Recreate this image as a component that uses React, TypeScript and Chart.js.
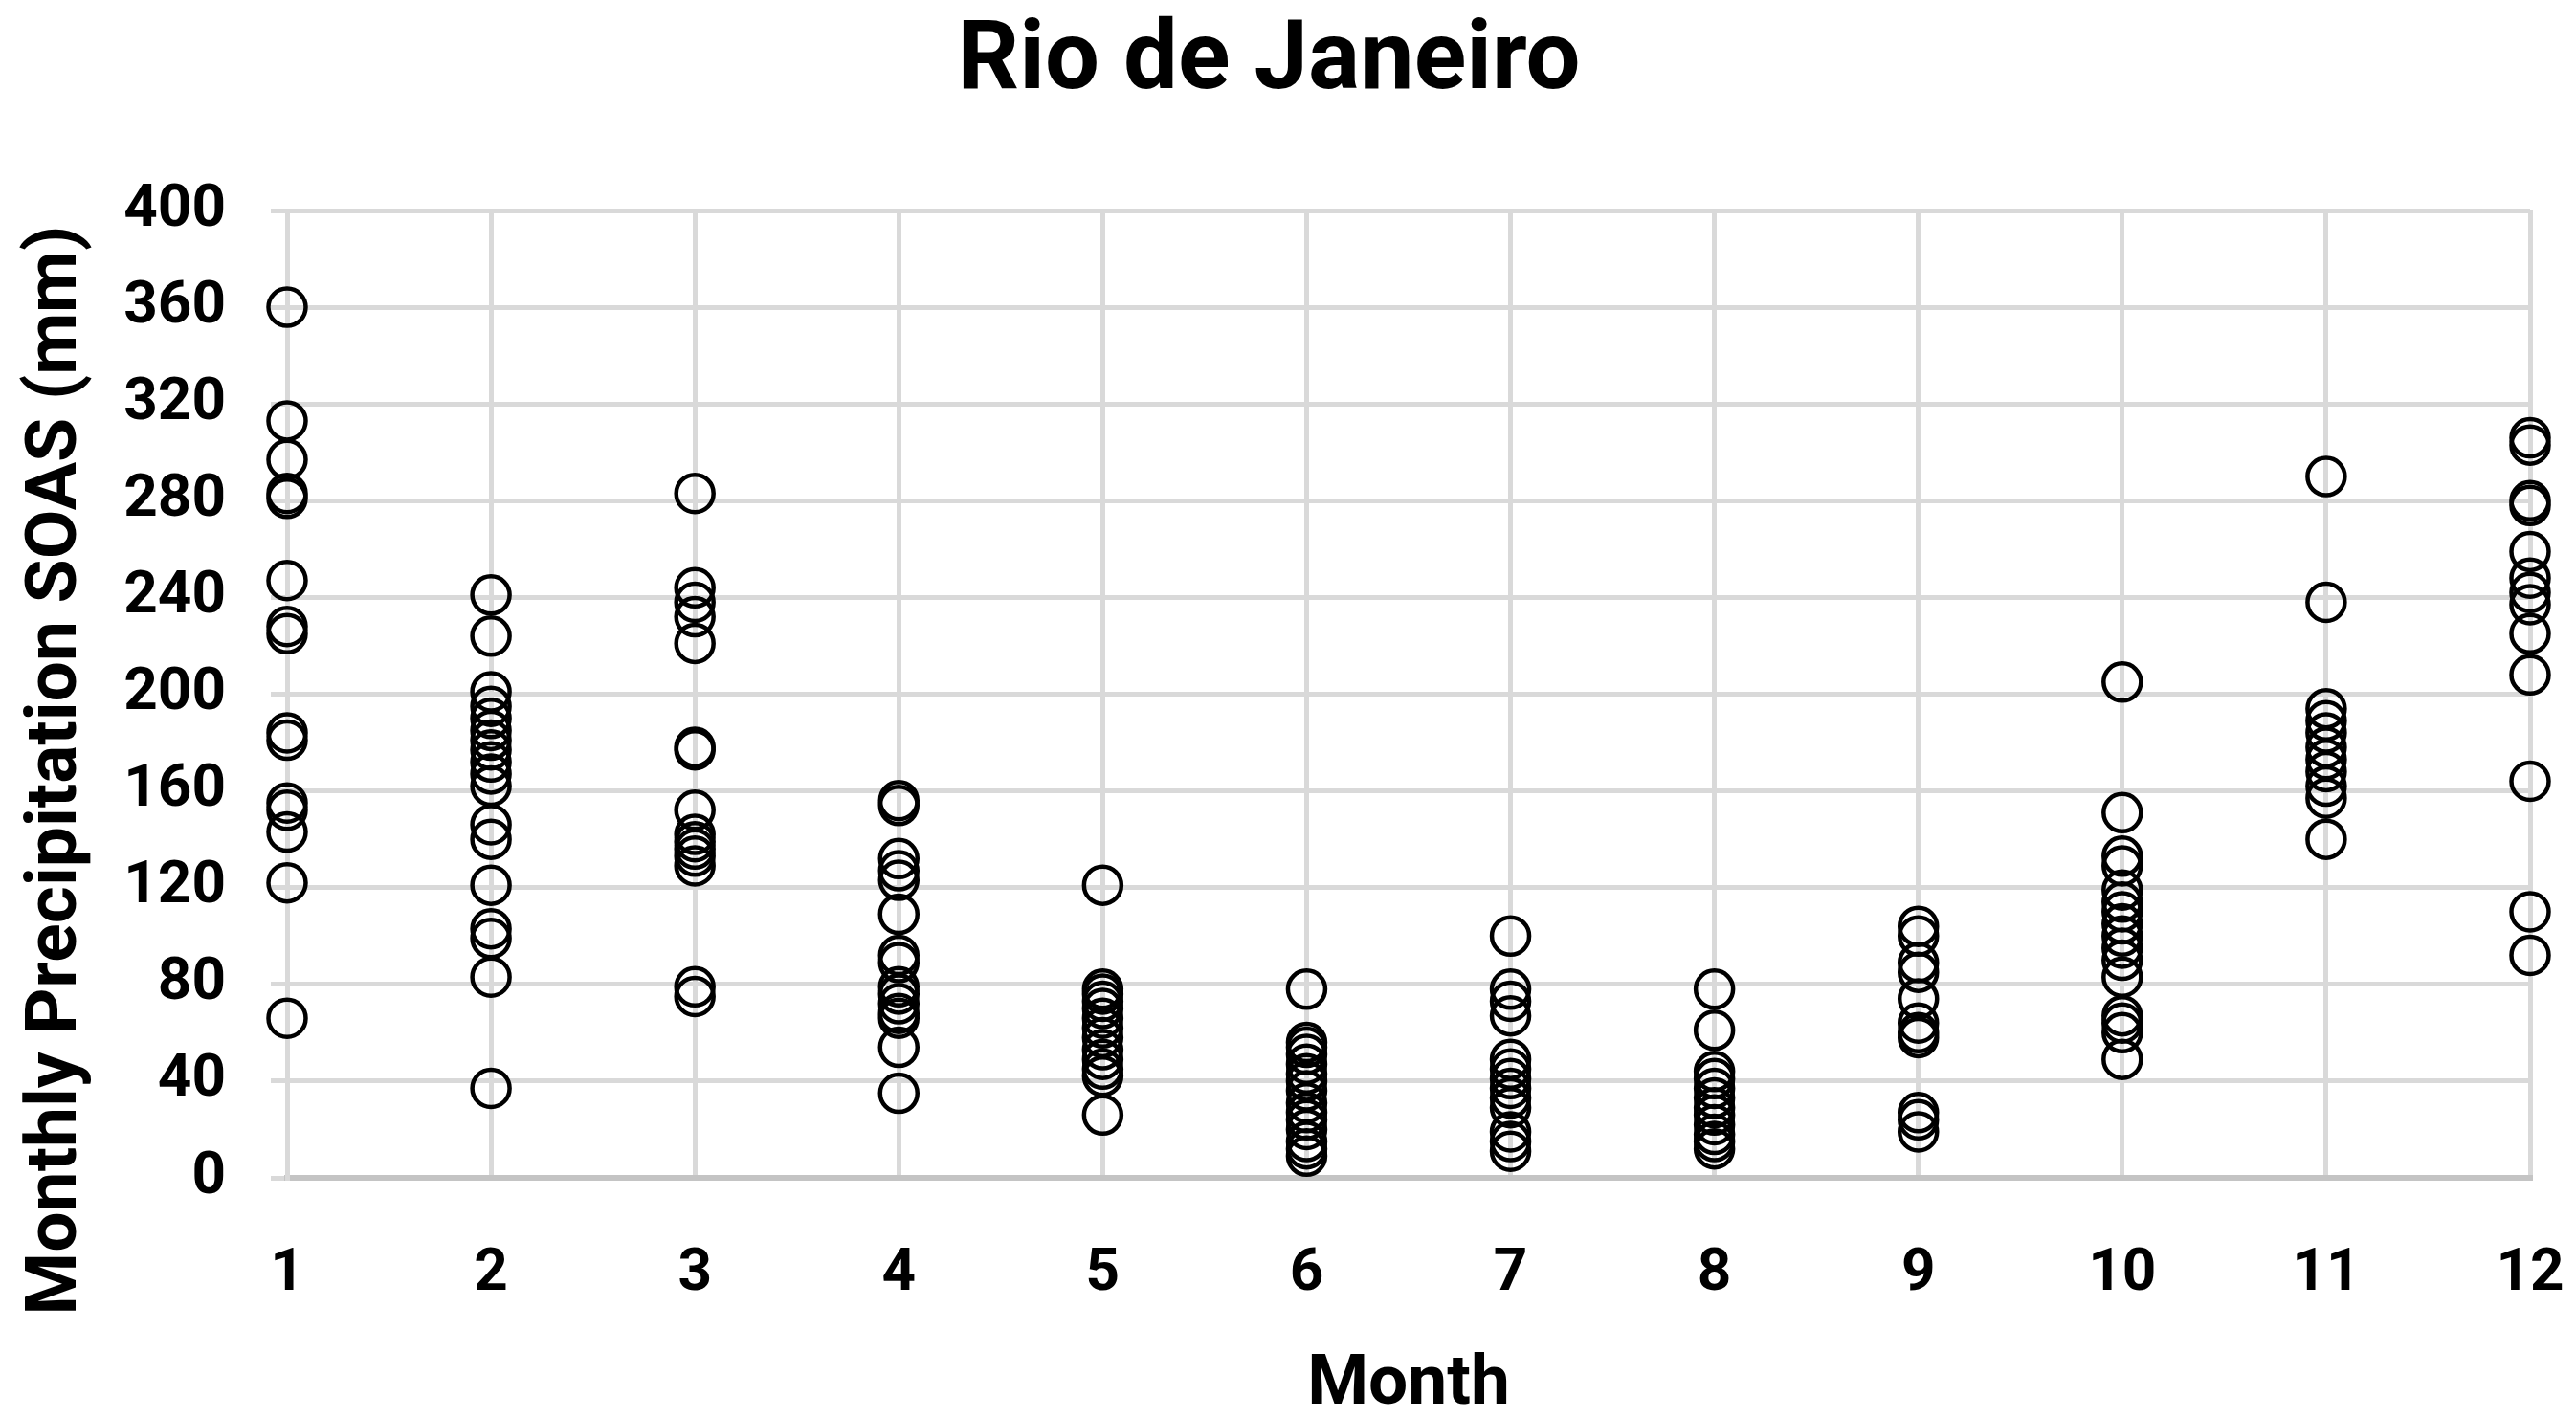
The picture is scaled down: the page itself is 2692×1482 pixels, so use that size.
import { useEffect, useRef } from "react";
import Chart from "chart.js/auto";

// month numbers on the x axis
const months = [1, 2, 3, 4, 5, 6, 7, 8, 9, 10, 11, 12];

// monthly precipitation SOAS (mm), one list per month
const jan = [360, 313, 297, 283, 281, 247, 228, 225, 184, 181, 155, 152, 143, 122, 66];
const feb = [241, 224, 201, 195, 190, 185, 181, 177, 172, 167, 162, 146, 140, 121, 103, 99, 83, 37];
const mar = [283, 244, 238, 232, 221, 178, 177, 152, 142, 139, 136, 133, 129, 79, 75];
const apr = [156, 154, 132, 127, 123, 109, 92, 89, 79, 76, 72, 68, 66, 54, 35];
const may = [121, 78, 76, 73, 70, 66, 62, 58, 53, 49, 45, 42, 26];
const jun = [78, 56, 54, 51, 47, 43, 40, 36, 31, 27, 24, 20, 15, 12, 9];
const jul = [100, 78, 73, 67, 49, 45, 41, 37, 33, 29, 19, 15, 11];
const aug = [78, 61, 44, 41, 37, 33, 29, 26, 22, 18, 15, 12];
const sep = [104, 100, 89, 85, 74, 64, 60, 58, 27, 24, 19];
const oct = [205, 151, 133, 129, 119, 114, 110, 105, 100, 95, 90, 83, 67, 64, 60, 49];
const nov = [290, 238, 194, 189, 184, 178, 173, 168, 162, 157, 140];
const dec = [306, 303, 280, 278, 259, 248, 242, 237, 225, 208, 164, 110, 92];

const series = [jan, feb, mar, apr, may, jun, jul, aug, sep, oct, nov, dec];

// labelled y ticks (minor tick marks sit halfway between them)
const yLabels = [0, 40, 80, 120, 160, 200, 240, 280, 320, 360, 400];

const FONT = "Roboto";
const GRID = "#d9d9d9";

const yTitlePlugin = {
  id: "yTitle",
  afterDraw(chart: any) {
    const { ctx } = chart;
    ctx.save();
    ctx.translate(71, 797);
    ctx.rotate(-Math.PI / 2);
    ctx.font = `bold 75px ${FONT}`;
    ctx.fillStyle = "#000";
    ctx.textAlign = "center";
    ctx.textBaseline = "alphabetic";
    ctx.fillText("Monthly Precipitation SOAS (mm)", 0, 0);
    ctx.restore();
  },
};

export default function App() {
  const canvasRef = useRef<HTMLCanvasElement>(null);

  useEffect(() => {
    if (!canvasRef.current) return;

    const points = months.flatMap((m, i) => series[i].map((v) => ({ x: m, y: v })));

    const chart = new Chart(canvasRef.current, {
      type: "scatter",
      data: {
        datasets: [
          {
            label: "Rio de Janeiro",
            data: points,
            pointStyle: "circle",
            pointRadius: 19.5,
            pointBorderWidth: 4.5,
            pointBorderColor: "#000",
            pointBackgroundColor: "transparent",
            showLine: false,
            clip: false,
          },
        ],
      },
      options: {
        animation: false,
        responsive: true,
        maintainAspectRatio: false,
        layout: { padding: { top: 0, right: 40, bottom: 0, left: 0 } },
        plugins: {
          legend: { display: false },
          tooltip: { enabled: false },
          title: {
            display: true,
            text: "Rio de Janeiro",
            color: "#000",
            font: { family: FONT, size: 101, weight: "bold", lineHeight: 1 },
            padding: { top: 8, bottom: 103 },
          },
        },
        scales: {
          x: {
            type: "linear",
            min: 1,
            max: 12,
            afterFit: (scale: any) => {
              scale.height = 243;
            },
            ticks: {
              stepSize: 1,
              padding: 0,
              color: "#000",
              font: { family: FONT, size: 62, weight: "bold", lineHeight: 1 },
            },
            grid: { color: GRID, lineWidth: 5, drawTicks: true, tickLength: 70, tickColor: "transparent" },
            border: { color: "#c4c4c4", width: 6 },
            title: {
              display: true,
              text: "Month",
              color: "#000",
              font: { family: FONT, size: 73, weight: "bold", lineHeight: 0.68 },
              padding: { top: 0, bottom: 0 },
            },
          },
          y: {
            min: 0,
            max: 400,
            afterFit: (scale: any) => {
              scale.width = 292;
            },
            ticks: {
              stepSize: 20,
              padding: 47,
              color: "#000",
              font: { family: FONT, size: 62, weight: "bold" },
              callback: (val: any) => (yLabels.includes(Number(val)) ? String(val) : ""),
            },
            grid: {
              color: (c: any) => (yLabels.includes(c.tick?.value) ? GRID : "transparent"),
              tickColor: GRID,
              lineWidth: 5,
              tickLength: 17,
            },
            border: { color: GRID, width: 5 },
          },
        },
      },
      plugins: [yTitlePlugin],
    });

    return () => chart.destroy();
  }, []);

  return (
    <div style={{ width: "100%", height: 1466, position: "relative", background: "#fff" }}>
      <canvas ref={canvasRef} />
    </div>
  );
}
